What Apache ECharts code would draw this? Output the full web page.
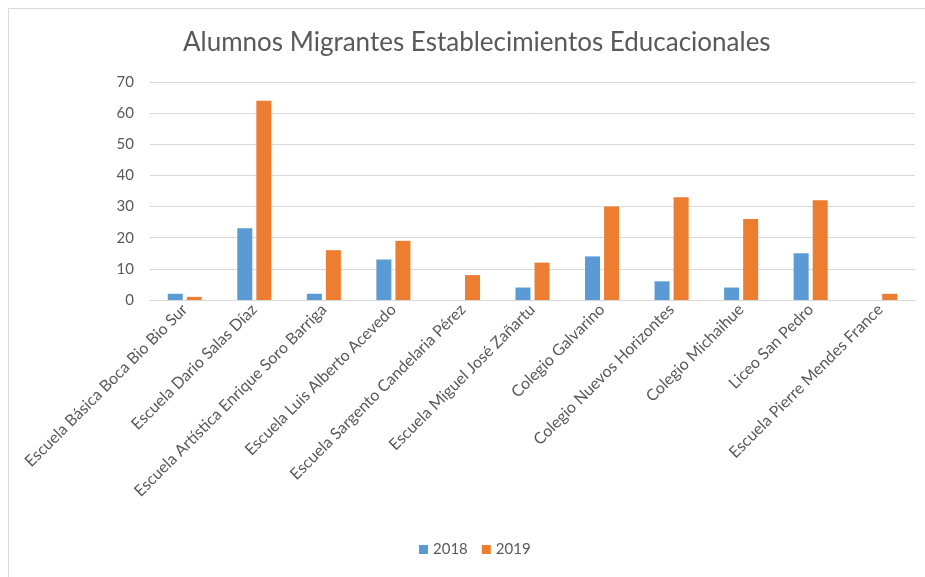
<!DOCTYPE html>
<html>
<head>
<meta charset="utf-8">
<script src="https://cdn.jsdelivr.net/npm/echarts@6/dist/echarts.min.js"></script>
<style>
html,body{margin:0;padding:0;background:#fff;}
#c{width:925px;height:577px;}
</style>
</head>
<body>
<div id="c"></div>
<script>
const categories = [
  "Escuela Básica Boca Bio Bio Sur",
  "Escuela Dario Salas Díaz",
  "Escuela Artística Enrique Soro Barriga",
  "Escuela Luis Alberto Acevedo",
  "Escuela Sargento Candelaria Pérez",
  "Escuela Miguel José Zañartu",
  "Colegio Galvarino",
  "Colegio Nuevos Horizontes",
  "Colegio Michaihue",
  "Liceo San Pedro",
  "Escuela Pierre Mendes France"
];
const values2018 = [2, 23, 2, 13, 0, 4, 14, 6, 4, 15, 0];
const values2019 = [1, 64, 16, 19, 8, 12, 30, 33, 26, 32, 2];
const seriesNames = ["2018", "2019"];

const chart = echarts.init(document.getElementById('c'), null, {renderer: 'canvas'});
const font = 'Lato, "Open Sans", sans-serif';
chart.setOption({
  animation: false,
  backgroundColor: '#fff',
  title: {
    text: 'Alumnos Migrantes Establecimientos Educacionales',
    left: 178,
    top: 25,
    textStyle: {fontFamily: font, fontSize: 26, fontWeight: 'normal', color: '#595959'}
  },
  graphic: [
    {type: 'line', shape: {x1: 8, y1: 8.5, x2: 925, y2: 8.5}, style: {stroke: '#d9d9d9', lineWidth: 1}},
    {type: 'line', shape: {x1: 8.5, y1: 8, x2: 8.5, y2: 577}, style: {stroke: '#d9d9d9', lineWidth: 1}}
  ],
  legend: {
    data: seriesNames,
    bottom: 15,
    left: 414,
    itemWidth: 9,
    itemHeight: 9,
    itemGap: 14,
    icon: 'rect',
    textStyle: {fontFamily: font, fontSize: 15, color: '#595959'}
  },
  grid: {left: 150, right: 10, top: 82, bottom: 277},
  xAxis: {
    type: 'category',
    data: categories,
    axisTick: {show: false},
    axisLine: {lineStyle: {color: '#d9d9d9'}},
    axisLabel: {rotate: 45, interval: 0, margin: 7, fontFamily: font, fontSize: 16, color: '#595959'}
  },
  yAxis: {
    type: 'value',
    min: 0, max: 70, interval: 10,
    axisLine: {show: false},
    axisTick: {show: false},
    splitLine: {lineStyle: {color: '#d9d9d9'}},
    axisLabel: {margin: 16, fontFamily: font, fontSize: 15, color: '#595959'}
  },
  series: [
    {name: seriesNames[0], type: 'bar', data: values2018, barWidth: 15, barGap: '27%',
     itemStyle: {color: '#5B9BD5'}},
    {name: seriesNames[1], type: 'bar', data: values2019, barWidth: 15,
     itemStyle: {color: '#ED7D31'}}
  ]
});
</script>
</body>
</html>
